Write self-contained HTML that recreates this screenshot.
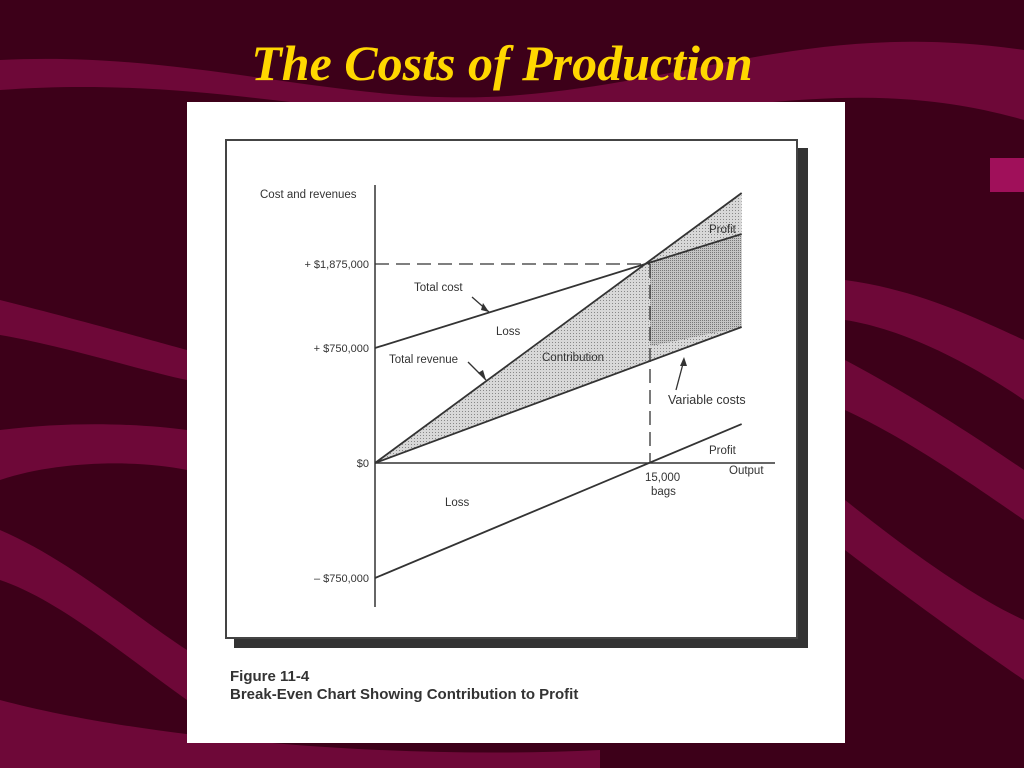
<!DOCTYPE html>
<html><head><meta charset="utf-8"><style>
html,body{margin:0;padding:0;width:1024px;height:768px;overflow:hidden;background:#3a0018;}
svg text{font-family:"Liberation Sans",sans-serif;}
</style></head><body>
<svg width="1024" height="768" viewBox="0 0 1024 768">
<defs>
<pattern id="dots" width="3" height="3" patternUnits="userSpaceOnUse"><rect width="3" height="3" fill="#d8d8d8"/><rect width="1" height="1" fill="#888"/></pattern>
<pattern id="dots2" width="2" height="2" patternUnits="userSpaceOnUse"><rect width="2" height="2" fill="#c4c4c4"/><rect width="1" height="1" fill="#777"/></pattern>
</defs>
<rect width="1024" height="768" fill="#3d0019"/>
<g fill="#6e0838">
<path d="M0 60 C200 50 350 110 520 95 C700 80 820 20 1024 50 L1024 120 C850 70 720 120 520 120 C340 120 200 75 0 90Z"/>
<path d="M0 300 C80 320 150 340 187 350 L187 380 C140 370 60 345 0 335Z"/>
<path d="M0 430 C80 420 150 425 187 430 L187 470 C140 460 60 460 0 480Z"/>
<path d="M0 530 C70 560 140 620 187 650 L187 700 C130 660 60 600 0 580Z"/>
<path d="M845 280 C920 290 980 320 1024 340 L1024 400 C980 370 910 330 845 320Z"/>
<path d="M845 360 C920 400 980 440 1024 470 L1024 520 C980 490 910 440 845 410Z"/>
<path d="M845 500 C920 560 980 600 1024 620 L1024 680 C980 650 910 600 845 550Z"/>
<path d="M0 700 C150 740 400 760 600 750 L600 768 L0 768Z"/>
<rect x="990" y="158" width="34" height="34" fill="#a0105a"/>
</g>
<text x="502" y="80" text-anchor="middle" font-style="italic" font-weight="bold" font-size="50" fill="#ffd700" style="font-family:'Liberation Serif',serif">The Costs of Production</text>
<rect x="187" y="102" width="658" height="641" fill="#fff"/>
<rect x="234" y="148" width="574" height="500" fill="#333"/>
<rect x="226" y="140" width="571" height="498" fill="#fff" stroke="#444" stroke-width="2"/>
<g id="chart"></g>
<text x="230" y="681" font-size="15" font-weight="bold" fill="#333">Figure 11-4</text>
<text x="230" y="699" font-size="15" font-weight="bold" fill="#333">Break-Even Chart Showing Contribution to Profit</text>
</svg>
<script>
const tickValues=[-750000,0,750000,1875000];
const tickLabels=["\u2013 $750,000","$0","+ $750,000","+ $1,875,000"];
const tickPx=[578,463,348,264];
const outputs=[0,20000];
const revenue=[0,2826000];
const totalCost=[750000,2277000];
const variableCost=[0,1031000];
const profit=[-750000,254000];
const breakEven=15000;
const breakEvenValue=1875000;
const NS="http://www.w3.org/2000/svg";
const g=document.getElementById('chart');
function x(v){return 375+v*(650-375)/15000;}
function y(v){
  for(let i=0;i<tickValues.length-1;i++){
    if(v<=tickValues[i+1]||i==tickValues.length-2){
      const a=tickValues[i],b=tickValues[i+1];
      return tickPx[i]+(v-a)*(tickPx[i+1]-tickPx[i])/(b-a);
    }
  }
}
function el(t,a){const e=document.createElementNS(NS,t);for(const k in a)e.setAttribute(k,a[k]);g.appendChild(e);return e;}
function lerp(arr,o){return arr[0]+(arr[1]-arr[0])*(o-outputs[0])/(outputs[1]-outputs[0]);}
let p=el('polygon',{points:[[x(0),y(revenue[0])],[x(outputs[1]),y(revenue[1])],[x(outputs[1]),y(variableCost[1])]].map(q=>q.join(',')).join(' '),fill:'url(#dots)'});


p=el('polygon',{points:[[x(breakEven),y(lerp(totalCost,breakEven))],[x(outputs[1]),y(totalCost[1])],[x(outputs[1]),y(variableCost[1])],[x(breakEven),y(lerp(variableCost,breakEven))]].map(q=>q.join(',')).join(' '),fill:'url(#dots2)'});


let a=el('line',{x1:375,y1:185,x2:375,y2:607,stroke:'#333','stroke-width':1.5});


a=el('line',{x1:375,y1:y(0),x2:775,y2:y(0),stroke:'#333','stroke-width':1.5});


tickValues.forEach((v,i)=>{
  const t=el('text',{x:369,y:y(v)+4,'text-anchor':'end','font-size':11,fill:'#333'});
  t.textContent=tickLabels[i];
  
  
});
let d=el('line',{x1:375,y1:y(breakEvenValue),x2:x(breakEven),y2:y(breakEvenValue),stroke:'#333','stroke-width':1.3,'stroke-dasharray':'14,7'});


d=el('line',{x1:x(breakEven),y1:y(breakEvenValue),x2:x(breakEven),y2:y(0),stroke:'#333','stroke-width':1.3,'stroke-dasharray':'14,7'});


[[revenue,'total-revenue-line'],[totalCost,'total-cost-line'],[variableCost,'variable-cost-line'],[profit,'profit-line']].forEach(s=>{
  const l=el('line',{x1:x(outputs[0]),y1:y(s[0][0]),x2:x(outputs[1]),y2:y(s[0][1]),stroke:'#333','stroke-width':1.8});
  
  
});
const labs=[[260,198,'Cost and revenues','y-axis-title'],[414,291,'Total cost','label-total-cost'],[496,335,'Loss','label-loss-top'],[389,363,'Total revenue','label-total-revenue'],[542,361,'Contribution','label-contribution'],[709,233,'Profit','label-profit-top'],[668,404,'Variable costs','label-variable-costs'],[709,454,'Profit','label-profit-bottom'],[729,474,'Output','x-axis-title'],[645,481,'15,000','label-15000'],[651,495,'bags','label-bags'],[445,506,'Loss','label-loss-bottom']];
labs.forEach(q=>{
  const t=el('text',{x:q[0],y:q[1],'font-size':q[2]=='Variable costs'?12.5:11.5,fill:'#333'});
  t.textContent=q[2];
  
  
});
[[472,297,489,312],[468,362,486,380],[684,360,676,390]].forEach((q,i)=>{
  const l=el('path',{d:`M${q[0]} ${q[1]} L${q[2]} ${q[3]}`,stroke:'#333','stroke-width':1.3,fill:'none'});
  
  
});
[[489,312,483,303,481,310],[486,380,478,373,483,370],[684,357,680,366,687,366]].forEach(q=>{
  const h=el('polygon',{points:`${q[0]},${q[1]} ${q[2]},${q[3]} ${q[4]},${q[5]}`,fill:'#333'});
  
  
});
</script>
</body></html>
